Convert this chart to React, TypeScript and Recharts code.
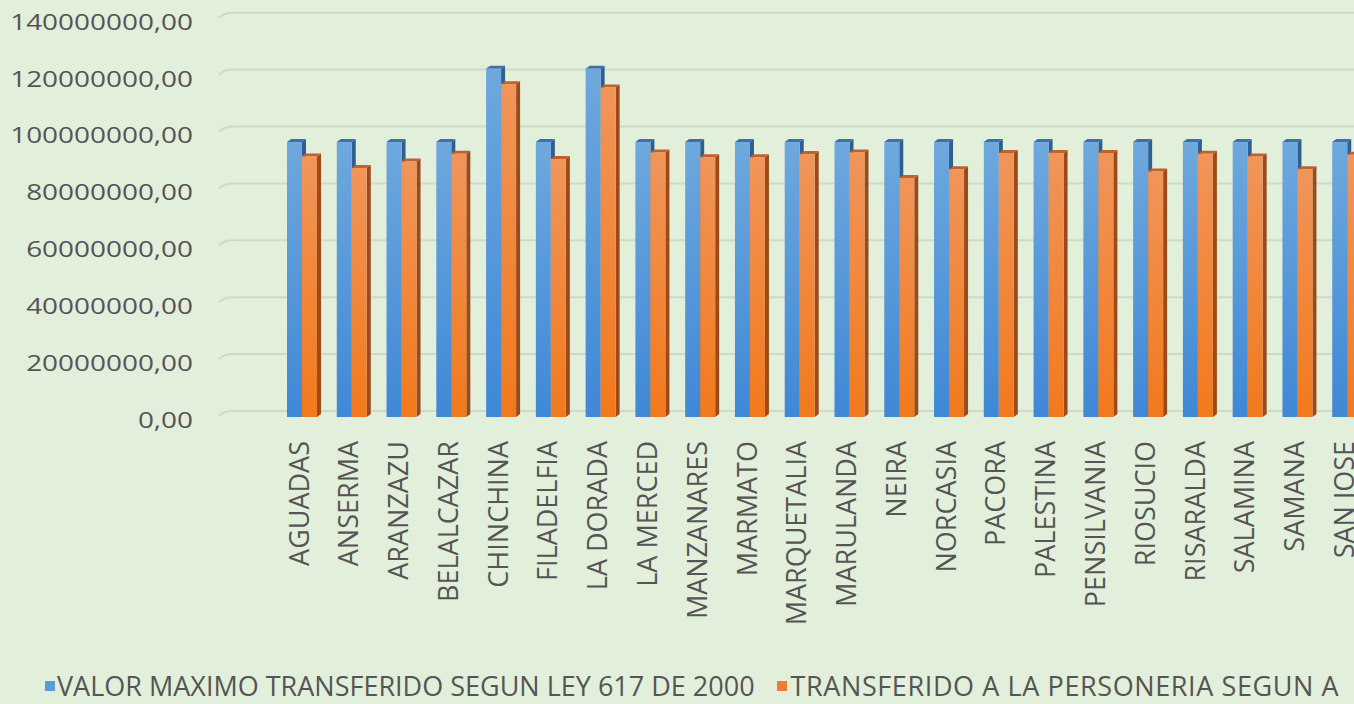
import React from 'react';
import { BarChart, Bar, XAxis, YAxis, CartesianGrid, Legend } from 'recharts';

const categories = ['AGUADAS', 'ANSERMA', 'ARANZAZU', 'BELALCAZAR', 'CHINCHINA', 'FILADELFIA', 'LA DORADA', 'LA MERCED', 'MANZANARES', 'MARMATO', 'MARQUETALIA', 'MARULANDA', 'NEIRA', 'NORCASIA', 'PACORA', 'PALESTINA', 'PENSILVANIA', 'RIOSUCIO', 'RISARALDA', 'SALAMINA', 'SAMANA', 'SAN JOSE'];

const valorMaximo = [96652500, 96652500, 96652500, 96652500, 122426500, 96652500, 122426500, 96652500, 96652500, 96652500, 96652500, 96652500, 96652500, 96652500, 96652500, 96652500, 96652500, 96652500, 96652500, 96652500, 96652500, 96652500];

const transferido = [91600000, 87500000, 89800000, 92500000, 117000000, 90700000, 115800000, 93000000, 91300000, 91300000, 92400000, 93000000, 84000000, 87100000, 92800000, 92800000, 92800000, 86300000, 92500000, 91600000, 87100000, 92200000];

const yTicks = [0, 20000000, 40000000, 60000000, 80000000, 100000000, 120000000, 140000000];

const seriesNames = ['VALOR MAXIMO TRANSFERIDO SEGUN LEY 617 DE 2000', 'TRANSFERIDO A LA PERSONERIA SEGUN A'];

const data = categories.map((name, i) => ({ name, maximo: valorMaximo[i], transferido: transferido[i] }));

const TEXT = '#555555';
const FONT = 'Open Sans';
const D = 4;
const DY = 3;

const fmt = (v: number) => `${v},00`;

function Bar3D(props: any) {
  const { x, y, width, height, sideColor, topColor, gradId } = props;
  if (!height || height <= 0) return null;
  const wf = width - D;
  return (
    <g>
      <polygon points={`${x + wf},${y} ${x + wf + D},${y - DY} ${x + wf + D},${y + height - DY} ${x + wf},${y + height}`} fill={sideColor} />
      <polygon points={`${x},${y} ${x + D},${y - DY} ${x + wf + D},${y - DY} ${x + wf},${y}`} fill={topColor} />
      <rect x={x} y={y} width={wf} height={height} fill={`url(#${gradId})`} />
    </g>
  );
}

const YTick = (props: any) => {
  const { x, y, payload } = props;
  return (
    <g transform={`translate(${x},${y + 3})`}>
      <text textAnchor="end" dy="0.36em" transform="scale(1.27,1)" fill={TEXT} fontSize={22} fontFamily={FONT}>
        {fmt(payload.value)}
      </text>
    </g>
  );
};

const XTick = (props: any) => {
  const { x, y, payload } = props;
  return (
    <g transform={`translate(${x - 5},${y})`}>
      <text transform="rotate(-90)" textAnchor="end" dy="0.36em" fill={TEXT} fontSize={27} fontFamily={FONT}>
        {payload.value}
      </text>
    </g>
  );
};

const GridLine = (props: any) => {
  const { x1, x2, y1 } = props;
  const yy = y1 - 6;
  return (
    <g>
      <path d={`M${x1 - 6},${yy + 5} Q${x1 - 1},${yy} ${x1 + 8},${yy}`} stroke="#cfd9ca" strokeWidth={2} fill="none" />
      <line x1={x1 + 8} x2={x2} y1={yy} y2={yy} stroke="#cfd9ca" strokeWidth={2} />
    </g>
  );
};

const LegendContent = () => (
  <div style={{ display: 'flex', alignItems: 'center', whiteSpace: 'nowrap', fontFamily: FONT, fontSize: 27, lineHeight: '27px', color: TEXT }}>
    <span style={{ display: 'inline-block', width: 10, height: 10, background: '#5b9bd5', marginRight: 2 }} />
    <span>{seriesNames[0]}</span>
    <span style={{ display: 'inline-block', width: 10, height: 10, background: '#ed7d31', marginLeft: 22, marginRight: 4 }} />
    <span style={{ letterSpacing: '0.6px' }}>{seriesNames[1]}</span>
  </div>
);

export default function App() {
  return (
    <div style={{ position: 'fixed', left: 0, top: 0, width: 1354, height: 704, overflow: 'hidden', background: '#e2efda' }}>
      <BarChart
        width={1400}
        height={704}
        data={data}
        margin={{ top: 18.7, right: 26, bottom: 0, left: 0 }}
        barSize={19}
        barGap={-4}
      >
        <defs>
          <linearGradient id="gBlue" x1="0" y1="0" x2="0" y2="1">
            <stop offset="0%" stopColor="#6ea8dd" />
            <stop offset="100%" stopColor="#3f88d6" />
          </linearGradient>
          <linearGradient id="gOrange" x1="0" y1="0" x2="0" y2="1">
            <stop offset="0%" stopColor="#f0955a" />
            <stop offset="100%" stopColor="#f2791c" />
          </linearGradient>
        </defs>
        <CartesianGrid vertical={false} horizontal={(p: any) => { const { key, ...rest } = p; return <GridLine key={key} {...rest} />; }} />
        <XAxis
          dataKey="name"
          interval={0}
          tickLine={false}
          axisLine={false}
          height={287}
          padding={{ left: 54, right: 0 }}
          tickSize={0}
          tickMargin={24}
          tick={<XTick />}
        />
        <YAxis
          domain={[0, 140000000]}
          ticks={yTicks}
          interval={0}
          width={225}
          tickLine={false}
          axisLine={false}
          tickSize={0}
          tickMargin={32}
          tick={<YTick />}
        />
        <Legend
          layout="vertical"
          align="center"
          verticalAlign="middle"
          content={<LegendContent />}
          wrapperStyle={{ left: 45, top: 672, width: 1500, height: 27 }}
        />
        <Bar
          dataKey="maximo"
          name={seriesNames[0]}
          fill="#5b9bd5"
          isAnimationActive={false}
          shape={(p: any) => <Bar3D {...p} sideColor="#2f5f8e" topColor="#3c70a6" gradId="gBlue" />}
        />
        <Bar
          dataKey="transferido"
          name={seriesNames[1]}
          fill="#ed7d31"
          isAnimationActive={false}
          shape={(p: any) => <Bar3D {...p} sideColor="#9c4a1a" topColor="#c2602a" gradId="gOrange" />}
        />
      </BarChart>
    </div>
  );
}
